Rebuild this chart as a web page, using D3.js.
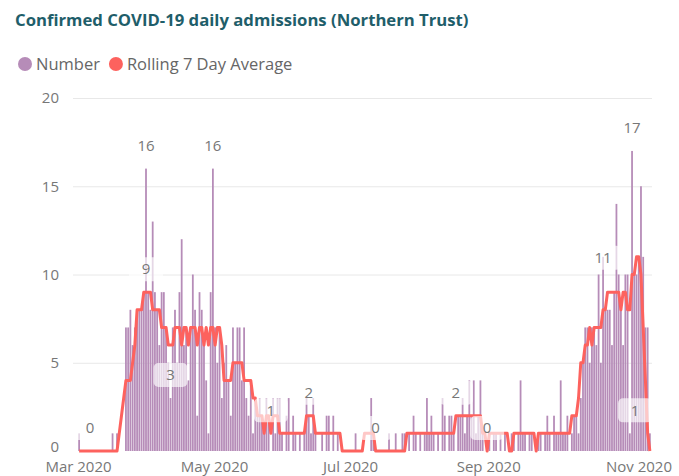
<!DOCTYPE html>
<html>
<head>
<meta charset="utf-8">
<script src="https://cdn.jsdelivr.net/npm/d3@7"></script>
<style>
  html, body { margin: 0; padding: 0; background: #ffffff; }
  svg { display: block; font-family: "Open Sans", "Noto Sans", sans-serif; }
</style>
</head>
<body>
<svg id="chart" width="679" height="476"></svg>
<script>
// ---- data -------------------------------------------------------------
const startDate = "2020-03-01";

// Daily confirmed admissions, one value per day from 1 March 2020
const admissions = [
  // March
  1,0,0,0,0,0,0,0,0,0, 0,0,0,0,0,1,0,1,0,0, 0,7,7,8,6,7,8,8,8,9, 16,
  // April
  9,8,13,9,8,6,9,9,7,5, 3,7,8,5,9,12,6,7,4,7, 10,8,2,9,8,6,4,1,9,16,
  // May
  7,5,7,3,5,6,4,2,7,5, 7,7,4,7,3,2,4,1,3,2, 3,2,1,3,2,0,3,1,3,3, 1,
  // June
  0,2,3,0,2,1,0,1,0,1, 3,2,1,3,1,0,0,1,0,2, 2,0,2,0,1,0,0,0,0,0,
  // July
  0,0,1,0,0,0,0,0,0,3, 1,0,0,0,0,0,0,1,0,0, 1,0,0,1,1,0,1,0,2,1, 0,
  // August
  1,0,1,3,1,2,1,0,1,0, 3,2,0,2,2,1,0,2,2,3, 1,2,4,2,4,1,2,4,1,0, 0,
  // September
  1,0,1,1,0,1,0,1,0,0, 1,1,0,1,4,1,1,0,1,1, 0,0,1,1,0,1,2,1,0,2,
  // October
  1,1,4,1,1,2,0,1,2,2, 1,3,5,7,7,5,7,7,6,10, 5,11,8,8,8,6,9,14,10,8, 6,
  // November
  10,10,1,17,10,10,11,15,11,7,7,1
];

// Rolling 7 day average (whole numbers), same days
const rollingAvg = [
  // March
  0,0,0,0,0,0,0,0,0,0, 0,0,0,0,0,0,0,0,1,2, 3,4,4,4,5,6,8,8,8,9, 9,
  // April
  9,9,8,8,8,8,7,7,7,6, 6,6,7,7,7,6,7,7,6,7, 7,7,6,7,7,6,7,6,7,7,
  // May
  6,7,7,6,4,4,4,4,5,5, 5,5,5,4,4,4,4,3,3,2, 2,2,1,2,2,1,2,2,2,1, 1,
  // June
  1,1,1,1,1,1,1,1,1,1, 2,2,2,2,1,1,1,1,1,1, 1,1,1,1,1,1,0,0,0,0,
  // July
  0,0,0,0,0,0,1,1,1,1, 1,0,0,0,0,0,0,0,0,0, 0,0,0,0,0,1,1,1,1,1, 1,
  // August
  1,1,1,1,1,1,1,1,1,1, 1,1,1,1,1,1,2,2,2,2, 2,2,2,2,2,2,2,2,1,1, 0,
  // September
  1,1,1,1,1,1,1,1,1,0, 0,1,1,1,1,1,1,1,1,1, 1,0,1,1,1,1,1,1,1,1,
  // October
  1,1,1,1,1,1,1,2,2,2, 3,5,5,6,6,7,6,7,7,7, 7,8,8,9,9,9,9,9,9,8, 9,
  // November
  9,8,8,10,10,11,11,10,7,4,1,0
];

const seriesNames = ["Number", "Rolling 7 Day Average"];
const yTicks = [0, 5, 10, 15, 20];
const xTickDates = ["2020-03-01", "2020-05-01", "2020-07-01", "2020-09-01", "2020-11-01"];
const xTickLabels = ["Mar 2020", "May 2020", "Jul 2020", "Sep 2020", "Nov 2020"];
const chartTitle = "Confirmed COVID-19 daily admissions (Northern Trust)";

// Which points carry a data label (day index into the series)
const labelledPoints = [
  { series: "line", day: 0 },
  { series: "line", day: 30 },
  { series: "bar",  day: 30 },
  { series: "bar",  day: 41 },
  { series: "bar",  day: 60 },
  { series: "line", day: 86 },
  { series: "line", day: 103 },
  { series: "line", day: 133 },
  { series: "line", day: 169 },
  { series: "line", day: 183 },
  { series: "bar",  day: 235, inside: true },
  { series: "bar",  day: 248 },
  { series: "bar",  day: 256 }
];

// ---- layout & style ---------------------------------------------------
const W = 679, H = 476;
const plotLeft = 73, plotRight = 652;
const colors = { bar: "#b68cb8", line: "#fd625e", title: "#1f5e6a", text: "#777777", grid: "#e8e8e8" };
const FONT = '"Open Sans", "Noto Sans", sans-serif';

const svg = d3.select("#chart");

// ---- scales -----------------------------------------------------------
const parseDay = d3.utcParse("%Y-%m-%d");
const firstDay = parseDay(startDate);
const days = admissions.map((_, i) => d3.utcDay.offset(firstDay, i));

const x = d3.scaleUtc()
  .domain([firstDay, d3.utcDay.offset(firstDay, admissions.length)])
  .range([78, 651]);
const dayW = x(days[1]) - x(days[0]);
const cx = d => x(d3.utcHour.offset(d, 12));

const y = d3.scaleLinear().domain([0, 20]).range([451, 98]);

// ---- title ------------------------------------------------------------
svg.append("text")
  .attr("x", 15).attr("y", 26)
  .attr("fill", colors.title)
  .style("font-family", FONT)
  .style("font-size", "16.7px")
  .style("font-weight", 700)
  .text(chartTitle);

// ---- legend -----------------------------------------------------------
const legend = svg.append("g").attr("transform", "translate(0,64)");
let lx = 18;
[colors.bar, colors.line].forEach((c, i) => {
  legend.append("circle").attr("cx", lx + 7).attr("cy", 0).attr("r", 7).attr("fill", c);
  const t = legend.append("text")
    .attr("x", lx + 18).attr("y", 0).attr("dy", "0.35em")
    .attr("fill", "#666666")
    .style("font-family", FONT).style("font-size", "16.5px")
    .text(seriesNames[i]);
  lx = lx + 18 + t.node().getComputedTextLength() + 9;
});

// ---- y axis & gridlines ----------------------------------------------
const gy = svg.append("g")
  .attr("transform", `translate(${plotLeft},0)`)
  .call(d3.axisLeft(y).tickValues(yTicks).tickSize(-(plotRight - plotLeft)).tickPadding(14).tickFormat(d3.format("d")));
gy.select(".domain").remove();
gy.selectAll(".tick line").attr("stroke", d => d === 0 ? "none" : colors.grid);
gy.selectAll(".tick text")
  .attr("fill", colors.text)
  .attr("y", d => d === 0 ? -4 : 0)
  .style("font-family", FONT).style("font-size", "15px");

// ---- bars -------------------------------------------------------------
const barW = dayW * 0.8;
svg.append("g").selectAll("rect")
  .data(admissions)
  .join("rect")
  .attr("x", (d, i) => cx(days[i]) - barW / 2)
  .attr("width", barW)
  .attr("y", d => y(d))
  .attr("height", d => y(0) - y(d))
  .attr("fill", colors.bar);

// ---- rolling average line --------------------------------------------
const line = d3.line()
  .x((d, i) => cx(days[i]))
  .y(d => y(d));
svg.append("path")
  .datum(rollingAvg)
  .attr("d", line)
  .attr("fill", "none")
  .attr("stroke", colors.line)
  .attr("stroke-width", 3)
  .attr("stroke-linejoin", "round");

// ---- x axis -----------------------------------------------------------
const gx = svg.append("g")
  .attr("transform", `translate(0,${y(0)})`)
  .call(d3.axisBottom(x)
    .tickValues(xTickDates.map(parseDay))
    .tickFormat((d, i) => xTickLabels[i])
    .tickSize(0).tickPadding(10));
gx.select(".domain").remove();
gx.selectAll(".tick text")
  .attr("fill", colors.text)
  .style("font-family", FONT).style("font-size", "15px");
// the last month label sits flush with the right edge of the visual
gx.selectAll(".tick").filter((d, i, n) => i === n.length - 1).each(function () {
  const tick = d3.select(this);
  const t = tick.select("text");
  const m = /translate\(([-\d.]+)/.exec(tick.attr("transform"));
  const tx = m ? +m[1] : 0;
  t.attr("text-anchor", "end").attr("x", (W - 7) - tx);
});

// ---- data labels ------------------------------------------------------
const labels = svg.append("g");
labelledPoints.forEach(p => {
  const value = p.series === "bar" ? admissions[p.day] : rollingAvg[p.day];
  const px = cx(days[p.day]);
  const cy = p.inside ? y(value) + 1 : y(value) - 23;
  const txt = String(value);
  const bw = txt.length > 1 ? 36 : 34, bh = 24;
  let bx = px - bw / 2;
  bx = Math.max(plotLeft, Math.min(plotRight - bw, bx));
  labels.append("rect")
    .attr("x", bx).attr("y", cy - bh / 2)
    .attr("width", bw).attr("height", bh)
    .attr("rx", 5)
    .attr("fill", "#ffffff").attr("fill-opacity", 0.65);
  labels.append("text")
    .attr("x", bx + bw / 2).attr("y", cy).attr("dy", "0.35em")
    .attr("text-anchor", "middle")
    .attr("fill", colors.text)
    .style("font-family", FONT).style("font-size", "15px")
    .text(txt);
});
</script>
</body>
</html>
